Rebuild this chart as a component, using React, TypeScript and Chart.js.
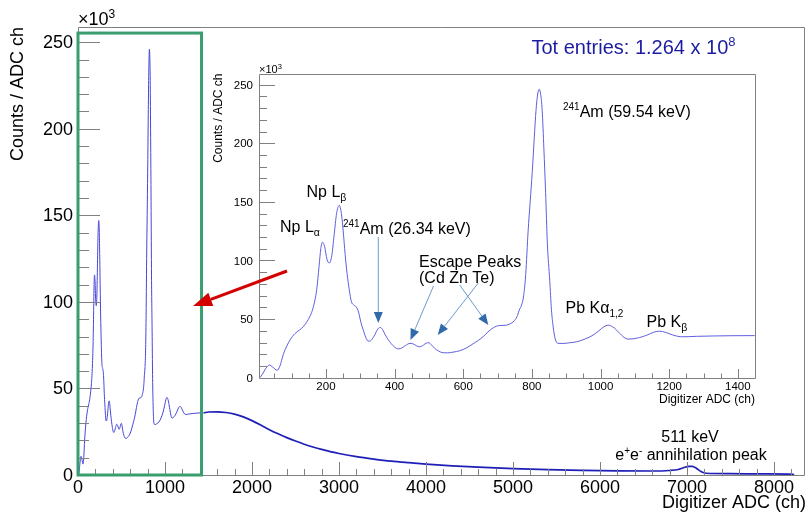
import React, { useEffect, useRef } from "react";
import { Chart, registerables } from "chart.js";

Chart.register(...registerables);

const FONT = '"Liberation Sans", Arial, Helvetica, sans-serif';

// ---- Data (counts in units of 10^3 per ADC channel) ----
const LOW_ADC = [
  8, 15, 25, 35, 45, 58, 66, 76, 86, 95, 110, 122, 134, 145, 153, 163, 173, 180, 185, 190,
  196, 203, 210, 217, 224, 231, 239, 245, 250, 256, 262, 268, 274, 281, 288, 295, 302, 309, 316, 323,
  330, 337, 343, 351, 359, 366, 372, 377, 385, 395, 405, 413, 422, 432, 445, 455, 465, 474, 484, 493,
  500, 508, 517, 528, 541, 555, 570, 590, 610, 629, 645, 658, 672, 687, 705, 726, 740, 750, 758, 763,
  770, 776, 782, 789, 795, 801, 807, 812, 817, 821, 825, 830, 835, 840, 845, 852, 857, 862, 868, 876,
  890, 910, 930, 955, 978, 995, 1010, 1022, 1035, 1047, 1056, 1068, 1080, 1095, 1114, 1135, 1155, 1172, 1190, 1210,
  1225, 1240, 1280, 1330, 1380, 1449,
];
const LOW_COUNTS = [
  0, 3, 8, 10.8, 9, 6.3, 10, 20, 27, 32, 37.7, 40.5, 43.5, 48, 52, 60, 75, 95, 110, 115.6,
  112, 101, 97.8, 104, 122, 140, 147, 140, 126, 105, 88, 75, 65, 62, 60.5, 56, 47, 40.5, 34.5, 31.2,
  31.5, 34, 37, 41.5, 42.8, 40.5, 37, 34.5, 31, 27.5, 25, 24.6, 25.5, 27.5, 29.3, 28.7, 27, 26.4, 27.8, 29.6,
  29.8, 27.8, 25, 22.8, 21.3, 21.2, 21.8, 23, 25.5, 29, 32, 35, 39, 42.5, 44.5, 44.8, 46.5, 49, 53, 57.6,
  62, 70, 88, 125, 150, 175, 205, 228, 242, 246, 243, 228, 195, 158, 115, 83, 58, 43.4, 33, 29.3,
  29.2, 29.8, 30.6, 33, 36.3, 40, 43.5, 44.8, 43.5, 40.5, 37.8, 34.5, 32.9, 33.2, 34.3, 36.3, 38.8, 39.7, 38.6, 36.5,
  35.3, 34.9, 35.3, 35.6, 35.8, 35.9,
];
const HIGH_ADC = [
  1500, 1600, 1700, 1800, 1900, 2000, 2100, 2200, 2300, 2400, 2500, 2600, 2700, 2800, 3000, 3200, 3400, 3600, 3800, 4000,
  4300, 4600, 5000, 5400, 5800, 6200, 6600, 6800, 6900, 6960, 7020, 7060, 7110, 7160, 7220, 7500, 7900, 8220, 8230,
];
const HIGH_COUNTS = [
  36.4, 36.5, 36.1, 35.2, 33.6, 31.4, 28.9, 26.2, 23.8, 21.6, 19.6, 17.8, 16.2, 14.8, 12.4, 10.6, 9.2, 8.0, 7.1, 6.3,
  5.3, 4.5, 3.7, 3.1, 2.7, 2.4, 2.3, 2.6, 3.2, 4.2, 5.0, 5.0, 3.8, 2.0, 1.0, 0.8, 0.6, 0.4, 0,
];

const MAIN_X_TICKS = [0, 1000, 2000, 3000, 4000, 5000, 6000, 7000, 8000];
const MAIN_Y_TICKS = [0, 50, 100, 150, 200, 250];
const INSET_X_TICKS = [200, 400, 600, 800, 1000, 1200, 1400];
const INSET_Y_TICKS = [0, 50, 100, 150, 200, 250];
const Y_MINOR_TICKS = [10, 20, 30, 40, 50, 60, 70, 80, 90, 100, 110, 120, 130, 140, 150, 160, 170, 180, 190, 200, 210, 220, 230, 240, 250];

const MAIN_X_RANGE = [0, 8345];
const INSET_X_RANGE = [5, 1450];
const Y_MAX = 258.8;

const INSET_LEFT = 180;
const INSET_TOP = 58;
const INSET_W = 627;
const INSET_H = 352;

type Seg = { t: string; size: number; dy?: number };

function rich(ctx: CanvasRenderingContext2D, segs: Seg[], x: number, y: number, color = "#000", align = "left") {
  ctx.save();
  ctx.fillStyle = color;
  ctx.textBaseline = "alphabetic";
  ctx.textAlign = "left";
  const widths = segs.map((s) => {
    ctx.font = `${s.size}px ${FONT}`;
    return ctx.measureText(s.t).width;
  });
  const total = widths.reduce((a, b) => a + b, 0);
  let cx = align === "center" ? x - total / 2 : align === "right" ? x - total : x;
  segs.forEach((s, i) => {
    ctx.font = `${s.size}px ${FONT}`;
    ctx.fillText(s.t, cx, y + (s.dy || 0));
    cx += widths[i];
  });
  ctx.restore();
}

function arrow(ctx: CanvasRenderingContext2D, x1: number, y1: number, x2: number, y2: number, lineColor: string, headColor: string, lw: number, headLen: number, headHalf: number) {
  const ang = Math.atan2(y2 - y1, x2 - x1);
  const bx = x2 - headLen * Math.cos(ang);
  const by = y2 - headLen * Math.sin(ang);
  ctx.save();
  ctx.strokeStyle = lineColor;
  ctx.lineWidth = lw;
  ctx.beginPath();
  ctx.moveTo(x1, y1);
  ctx.lineTo(bx, by);
  ctx.stroke();
  ctx.fillStyle = headColor;
  ctx.beginPath();
  ctx.moveTo(x2, y2);
  ctx.lineTo(bx + headHalf * Math.sin(ang), by - headHalf * Math.cos(ang));
  ctx.lineTo(bx - headHalf * Math.sin(ang), by + headHalf * Math.cos(ang));
  ctx.closePath();
  ctx.fill();
  ctx.restore();
}

// Tick labels placed with the chart's own scales
function drawTickLabels(chart: any, xVals: number[], yVals: number[], size: number, xGap: number, yGap: number) {
  const ctx: CanvasRenderingContext2D = chart.ctx;
  const a = chart.chartArea;
  const xs = chart.scales.x;
  const ys = chart.scales.y;
  ctx.save();
  ctx.fillStyle = "#000";
  ctx.font = `${size}px ${FONT}`;
  ctx.textBaseline = "middle";
  ctx.textAlign = "center";
  for (const v of xVals) {
    ctx.fillText(String(v), xs.getPixelForValue(v), a.bottom + xGap);
  }
  ctx.textAlign = "right";
  for (const v of yVals) {
    ctx.fillText(String(v), a.left - yGap, ys.getPixelForValue(v) + 1);
  }
  ctx.restore();
}

// Frame and inward ticks (ROOT style), positioned with the chart's own scales
function drawFrameTicks(chart: any, xLo: number, xHi: number, xMinor: number, xMajor: number, xMajLen: number, xMinLen: number, yMajLen: number, yMinLen: number) {
  const ctx: CanvasRenderingContext2D = chart.ctx;
  const a = chart.chartArea;
  const xs = chart.scales.x;
  const ys = chart.scales.y;
  const L = Math.round(a.left);
  const R = Math.round(a.right);
  const T = Math.round(a.top);
  const B = Math.round(a.bottom);
  ctx.save();
  ctx.globalAlpha = 1;
  ctx.globalCompositeOperation = "source-over";
  ctx.strokeStyle = "#808080";
  ctx.lineWidth = 1;
  ctx.setLineDash([]);
  ctx.beginPath();
  ctx.moveTo(L + 0.5, T + 0.5);
  ctx.lineTo(R + 0.5, T + 0.5);
  ctx.lineTo(R + 0.5, B + 0.5);
  ctx.lineTo(L + 0.5, B + 0.5);
  ctx.closePath();
  for (let j = 0; j < Y_MINOR_TICKS.length; j++) {
    const v = Y_MINOR_TICKS[j];
    const len = v % 50 === 0 ? yMajLen : yMinLen;
    const py = Math.round(ys.getPixelForValue(v)) + 0.5;
    ctx.moveTo(L, py);
    ctx.lineTo(L + len, py);
  }
  const nStart = Math.ceil(xLo / xMinor);
  const nEnd = Math.floor(xHi / xMinor);
  for (let i = nStart; i <= nEnd; i++) {
    const v = i * xMinor;
    if (v <= xLo || v >= xHi) continue;
    const len = v % xMajor === 0 ? xMajLen : xMinLen;
    const px = Math.round(xs.getPixelForValue(v)) + 0.5;
    ctx.moveTo(px, B);
    ctx.lineTo(px, B - len);
  }
  ctx.stroke();
  ctx.restore();
}

function pts(xsArr: number[], ysArr: number[]) {
  return xsArr.map((x, i) => ({ x, y: ysArr[i] }));
}

export default function App() {
  const mainRef = useRef<HTMLCanvasElement>(null);
  const insetRef = useRef<HTMLCanvasElement>(null);

  useEffect(() => {
    const mainPlugin = {
      id: "mainDeco",
      afterDraw(chart: any) {
        const ctx = chart.ctx;
        const scales = chart.scales;
        const gx0 = scales.x.getPixelForValue(0);
        const gx1 = scales.x.getPixelForValue(1420);
        const gy0 = scales.y.getPixelForValue(255.3);
        const gy1 = scales.y.getPixelForValue(0);
        drawTickLabels(chart, MAIN_X_TICKS, MAIN_Y_TICKS, 18, 13, 5);
        drawFrameTicks(chart, MAIN_X_RANGE[0], MAIN_X_RANGE[1], 200, 1000, 13, 6, 22, 11);
        ctx.save();
        ctx.strokeStyle = "#3a9d6e";
        ctx.lineWidth = 3;
        ctx.strokeRect(gx0, gy0, gx1 - gx0, gy1 - gy0);
        ctx.restore();
        rich(ctx, [{ t: "×10", size: 18 }, { t: "3", size: 12, dy: -7 }], 78, 25);
        rich(ctx, [{ t: "Tot entries: 1.264 x 10", size: 20 }, { t: "8", size: 13, dy: -8 }], 531.5, 54, "#1c1ca3");
        rich(ctx, [{ t: "511 keV", size: 16 }], 690, 442, "#000", "center");
        rich(ctx, [
          { t: "e", size: 16 }, { t: "+", size: 10, dy: -6 }, { t: "e", size: 16 }, { t: "-", size: 10, dy: -6 },
          { t: " annihilation peak", size: 16 },
        ], 691, 459.5, "#000", "center");
        rich(ctx, [{ t: "Digitizer ADC (ch)", size: 18 }], 806, 508, "#000", "right");
        ctx.save();
        ctx.translate(23, 27);
        ctx.rotate(-Math.PI / 2);
        rich(ctx, [{ t: "Counts / ADC ch", size: 18 }], 0, 0, "#000", "right");
        ctx.restore();
      },
    };

    const mainChart = new Chart(mainRef.current!, {
      type: "line",
      data: {
        datasets: [
          {
            data: pts(LOW_ADC, LOW_COUNTS),
            borderColor: "rgb(70,70,215)",
            borderWidth: 1,
            pointRadius: 0,
            cubicInterpolationMode: "monotone",
          },
          {
            data: [{ x: LOW_ADC[LOW_ADC.length - 1], y: LOW_COUNTS[LOW_COUNTS.length - 1] }, ...pts(HIGH_ADC, HIGH_COUNTS)],
            borderColor: "rgb(30,30,185)",
            borderWidth: 1.7,
            pointRadius: 0,
            cubicInterpolationMode: "monotone",
          },
        ],
      },
      options: {
        responsive: false,
        animation: false,
        events: [],
        layout: { padding: { left: 8, right: 5, top: 27, bottom: 8 } },
        plugins: { legend: { display: false }, tooltip: { enabled: false } },
        scales: {
          x: {
            type: "linear",
            min: MAIN_X_RANGE[0],
            max: MAIN_X_RANGE[1],
            grid: { display: false },
            border: { display: false },
            afterBuildTicks: (s: any) => { s.ticks = MAIN_X_TICKS.map((v) => ({ value: v })); },
            afterFit: (s: any) => { s.height = 30; },
            ticks: { display: false },
          },
          y: {
            type: "linear",
            min: 0,
            max: Y_MAX,
            grid: { display: false },
            border: { display: false },
            afterBuildTicks: (s: any) => { s.ticks = MAIN_Y_TICKS.map((v) => ({ value: v })); },
            afterFit: (s: any) => { s.width = 70; },
            ticks: { display: false },
          },
        },
      },
      plugins: [mainPlugin],
    } as any);

    const OX = INSET_LEFT;
    const OY = INSET_TOP;
    const insetPlugin = {
      id: "insetDeco",
      beforeDraw(chart: any) {
        const ctx = chart.ctx;
        ctx.save();
        ctx.fillStyle = "#fff";
        ctx.fillRect(205 - OX, 60 - OY, 802 - 205, 407 - 60);
        ctx.restore();
      },
      afterDraw(chart: any) {
        const ctx = chart.ctx;
        drawTickLabels(chart, INSET_X_TICKS, INSET_Y_TICKS, 11.5, 8.7, 6);
        drawFrameTicks(chart, INSET_X_RANGE[0], INSET_X_RANGE[1], 50, 200, 9, 4.5, 16, 8);
        rich(ctx, [{ t: "×10", size: 11 }, { t: "3", size: 7.5, dy: -4 }], 259 - OX, 73 - OY);
        rich(ctx, [{ t: "Digitizer ADC (ch)", size: 12 }], 755 - OX, 402.5 - OY, "#000", "right");
        ctx.save();
        ctx.translate(221.5 - OX, 73.5 - OY);
        ctx.rotate(-Math.PI / 2);
        rich(ctx, [{ t: "Counts / ADC ch", size: 12 }], 0, 0, "#000", "right");
        ctx.restore();

        rich(ctx, [{ t: "Np L", size: 16 }, { t: "β", size: 10.5, dy: 4 }], 306.5 - OX, 197 - OY);
        rich(ctx, [{ t: "Np L", size: 16 }, { t: "α", size: 10.5, dy: 4 }], 280 - OX, 232 - OY);
        rich(ctx, [{ t: "241", size: 10, dy: -7 }, { t: "Am (26.34 keV)", size: 16 }], 343 - OX, 234 - OY);
        rich(ctx, [{ t: "Escape Peaks", size: 16 }], 419 - OX, 266.5 - OY);
        rich(ctx, [{ t: "(Cd Zn Te)", size: 16 }], 419 - OX, 282.5 - OY);
        rich(ctx, [{ t: "241", size: 10, dy: -7 }, { t: "Am (59.54 keV)", size: 16 }], 563 - OX, 116.5 - OY);
        rich(ctx, [{ t: "Pb K", size: 16 }, { t: "α", size: 16 }, { t: "1,2", size: 10, dy: 4 }], 565.5 - OX, 313.3 - OY);
        rich(ctx, [{ t: "Pb K", size: 16 }, { t: "β", size: 10.5, dy: 4 }], 646.5 - OX, 327.3 - OY);

        const lc = "rgb(110,155,205)";
        const hc = "rgb(50,105,170)";
        arrow(ctx, 378.3 - OX, 237 - OY, 378.3 - OX, 323 - OY, lc, hc, 1, 11, 4.5);
        arrow(ctx, 433.5 - OX, 286 - OY, 410.5 - OX, 340 - OY, lc, hc, 1, 11, 4.5);
        arrow(ctx, 478.3 - OX, 283 - OY, 437.7 - OX, 335 - OY, lc, hc, 1, 11, 4.5);
        arrow(ctx, 459.7 - OX, 285 - OY, 488.3 - OX, 325 - OY, lc, hc, 1, 11, 4.5);

        arrow(ctx, 287 - OX, 271 - OY, 193 - OX, 306 - OY, "#d40000", "#d40000", 3, 19, 7);
      },
    };

    const insetChart = new Chart(insetRef.current!, {
      type: "line",
      data: {
        datasets: [
          {
            data: pts(LOW_ADC, LOW_COUNTS),
            borderColor: "rgb(95,95,220)",
            borderWidth: 1,
            pointRadius: 0,
            cubicInterpolationMode: "monotone",
          },
        ],
      },
      options: {
        responsive: false,
        animation: false,
        events: [],
        layout: { padding: { left: 39, right: 52, top: 16.3, bottom: 8.3 } },
        plugins: { legend: { display: false }, tooltip: { enabled: false } },
        scales: {
          x: {
            type: "linear",
            min: INSET_X_RANGE[0],
            max: INSET_X_RANGE[1],
            grid: { display: false },
            border: { display: false },
            afterBuildTicks: (s: any) => { s.ticks = INSET_X_TICKS.map((v) => ({ value: v })); },
            afterFit: (s: any) => { s.height = 24; },
            ticks: { display: false },
          },
          y: {
            type: "linear",
            min: 0,
            max: Y_MAX,
            grid: { display: false },
            border: { display: false },
            afterBuildTicks: (s: any) => { s.ticks = INSET_Y_TICKS.map((v) => ({ value: v })); },
            afterFit: (s: any) => { s.width = 40; },
            ticks: { display: false },
          },
        },
      },
      plugins: [insetPlugin],
    } as any);

    return () => {
      mainChart.destroy();
      insetChart.destroy();
    };
  }, []);

  return (
    <div style={{ position: "fixed", left: 0, top: 0, width: 809, height: 513, background: "#fff", overflow: "hidden" }}>
      <canvas ref={mainRef} width={809} height={513} style={{ position: "absolute", left: 0, top: 0 }} />
      <canvas
        ref={insetRef}
        width={INSET_W}
        height={INSET_H}
        style={{ position: "absolute", left: INSET_LEFT, top: INSET_TOP, pointerEvents: "none" }}
      />
    </div>
  );
}
